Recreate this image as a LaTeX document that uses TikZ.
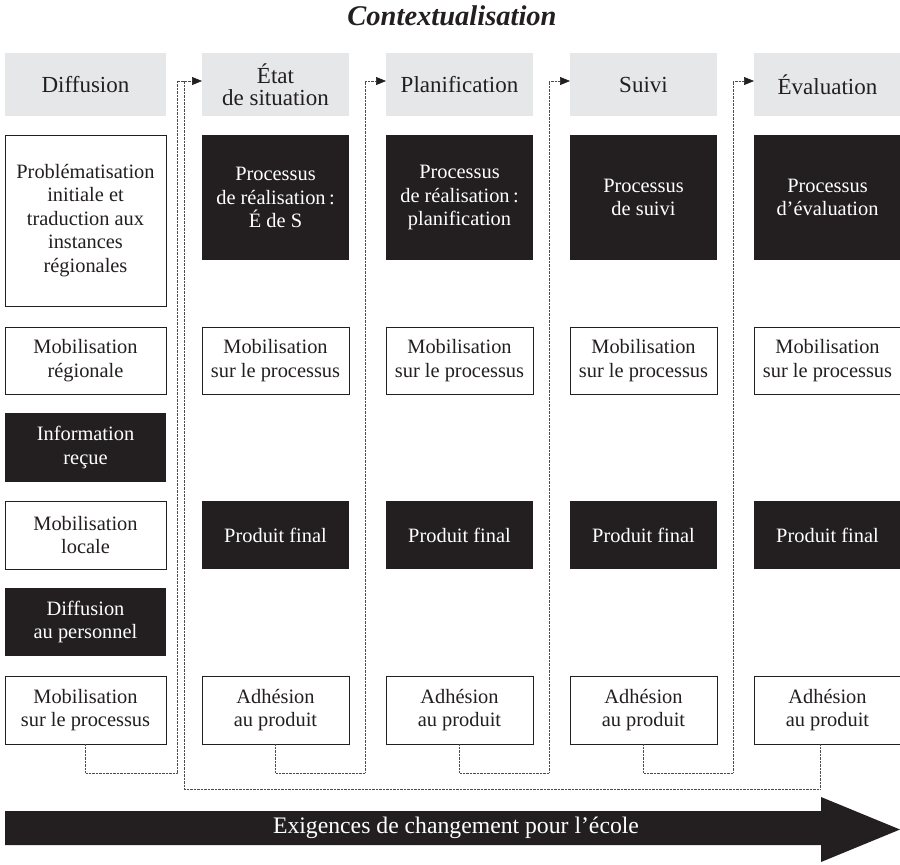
\documentclass[tikz,border=0pt]{standalone}
\usepackage{fontspec}
\setmainfont{Liberation Serif}
\usetikzlibrary{arrows.meta}
\definecolor{ink}{HTML}{231F20}
\definecolor{hdrgray}{HTML}{E6E7E8}
\begin{document}
\begin{tikzpicture}[x=1pt,y=-1pt,
  base/.style={rectangle, inner sep=0pt, outer sep=0pt, align=center, font=\fontsize{20.4}{23.5}\selectfont},
  wbox/.style={base, draw=ink, line width=1pt, fill=white, text=ink},
  bbox/.style={base, fill=ink, text=white},
  hbox/.style={base, fill=hdrgray, text=ink, minimum height=63pt, font=\fontsize{23}{22}\selectfont},
  colone/.style={minimum width=161pt},
  colw/.style={minimum width=147pt},
  conn/.style={draw=black!70, line width=0.7pt, dash pattern=on 0.7pt off 0.7pt},
  tip/.style={-{Triangle[length=10pt,width=8pt,color=ink]}}
]
\useasboundingbox (0,0) rectangle (900,865);

% title
\node[font=\fontsize{28.5}{30}\selectfont\bfseries\itshape, text=ink, anchor=base] (title) at (452,25) {Contextualisation};

% headers
\node[hbox,colone] (h1) at (85.5,84.5) {Diffusion};
\node[hbox,colw] (h2) at (275.5,84.5) {État\\de situation};
\node[hbox,colw] (h3) at (459.5,84.5) {Planification};
\node[hbox,colw] (h4) at (643.5,84.5) {Suivi};
\node[hbox,colw] (h5) at (827.5,84.5) {Évaluation};

% column 1
\node[wbox,colone,minimum height=171pt] (p1) at (85.5,220.5) {Problématisation\\initiale et\\traduction aux\\instances\\régionales};
\node[wbox,colone,minimum height=67pt] (mr1) at (85.5,360.5) {Mobilisation\\régionale};
\node[bbox,colone,minimum height=69pt] (ir1) at (85.5,447.5) {Information\\reçue};
\node[wbox,colone,minimum height=68pt] (ml1) at (85.5,535) {Mobilisation\\locale};
\node[bbox,colone,minimum height=68pt] (dp1) at (85.5,622) {Diffusion\\au personnel};
\node[wbox,colone,minimum height=68pt] (mp1) at (85.5,710) {Mobilisation\\sur le processus};

% process boxes
\node[bbox,colw,minimum height=125pt] (pr2) at (275.5,197.5) {Processus\\de réalisation\,:\\É de S};
\node[bbox,colw,minimum height=125pt] (pr3) at (459.5,197.5) {Processus\\de réalisation\,:\\planification};
\node[bbox,colw,minimum height=125pt] (pr4) at (643.5,197.5) {Processus\\de suivi};
\node[bbox,colw,minimum height=125pt] (pr5) at (827.5,197.5) {Processus\\d’évaluation};

% mobilisation boxes
\node[wbox,colw,minimum height=67pt] (m2) at (275.5,360.5) {Mobilisation\\sur le processus};
\node[wbox,colw,minimum height=67pt] (m3) at (459.5,360.5) {Mobilisation\\sur le processus};
\node[wbox,colw,minimum height=67pt] (m4) at (643.5,360.5) {Mobilisation\\sur le processus};
\node[wbox,colw,minimum height=67pt] (m5) at (827.5,360.5) {Mobilisation\\sur le processus};

% produit final
\node[bbox,colw,minimum height=68pt] (f2) at (275.5,535) {Produit final};
\node[bbox,colw,minimum height=68pt] (f3) at (459.5,535) {Produit final};
\node[bbox,colw,minimum height=68pt] (f4) at (643.5,535) {Produit final};
\node[bbox,colw,minimum height=68pt] (f5) at (827.5,535) {Produit final};

% adhesion
\node[wbox,colw,minimum height=68pt] (a2) at (275.5,710) {Adhésion\\au produit};
\node[wbox,colw,minimum height=68pt] (a3) at (459.5,710) {Adhésion\\au produit};
\node[wbox,colw,minimum height=68pt] (a4) at (643.5,710) {Adhésion\\au produit};
\node[wbox,colw,minimum height=68pt] (a5) at (827.5,710) {Adhésion\\au produit};

% connectors
\coordinate (j1) at (177,773);
\coordinate (j2) at (365,773);
\coordinate (j3) at (549,773);
\coordinate (j4) at (733,773);
\coordinate (jl) at (184,789);
\coordinate (jt) at (184,81);

\draw[conn,tip] (mp1.south) |- (j1) |- ([yshift=3.5pt]h2.west);
\draw[conn,tip] (a2.south) |- (j2) |- ([yshift=3.5pt]h3.west);
\draw[conn,tip] (a3.south) |- (j3) |- ([yshift=3.5pt]h4.west);
\draw[conn,tip] (a4.south) |- (j4) |- ([yshift=3.5pt]h5.west);
\draw[conn] ([xshift=-7.5pt]a5.south) |- (jl) -- (jt);

% big arrow
\fill[ink] (5,811) -- (821,811) -- (821,797) -- (900,829.5) -- (821,862) -- (821,845) -- (5,845) -- cycle;
\node[text=white, font=\fontsize{23.7}{28}\selectfont] (ex) at (456,828) {Exigences de changement pour l’école};
\end{tikzpicture}
\end{document}
